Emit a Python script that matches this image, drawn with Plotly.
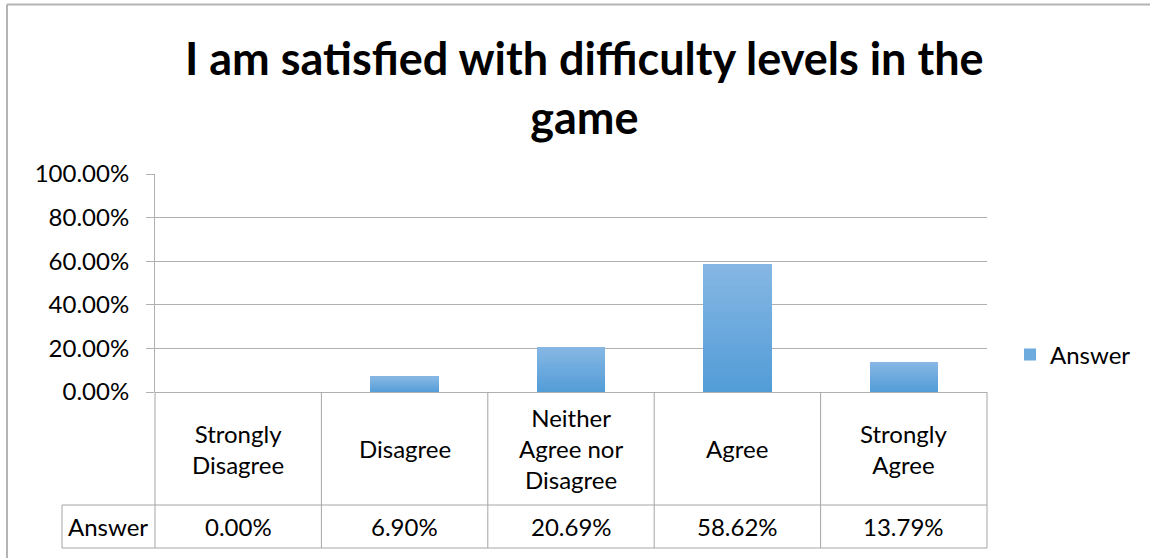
import plotly.graph_objects as go

categories = ["Strongly<br>Disagree", "Disagree", "Neither<br>Agree nor<br>Disagree", "Agree", "Strongly<br>Agree"]
values = [0.0, 0.0690, 0.2069, 0.5862, 0.1379]
series_name = "Answer"
title_text = "I am satisfied with difficulty levels in the<br>game"
tick_vals = [0, 0.2, 0.4, 0.6, 0.8, 1.0]

FONT = "Lato"
FS = 24
W, H = 1150, 558
ML, MR, MT, MB = 155, 163, 174, 166
PW = W - ML - MR
PH = H - MT - MB

def px_x(px):
    return (px - ML) / PW

def px_y(py):
    return (H - MB - py) / PH

top_rgb = (0x86, 0xB7, 0xE4)
bot_rgb = (0x52, 0x9C, 0xD7)
NSEG = 24

fig = go.Figure()
xs = list(range(len(categories)))
for k in range(NSEG):
    t = (k + 0.5) / NSEG  # 0 bottom -> 1 top
    c = tuple(round(b + (tp - b) * t) for b, tp in zip(bot_rgb, top_rgb))
    color = "rgb(%d,%d,%d)" % c
    fig.add_trace(go.Bar(
        x=xs, y=[v / NSEG for v in values], width=0.41,
        marker=dict(color=color, line=dict(width=0)),
        name=series_name, showlegend=(k == NSEG // 2), hoverinfo="skip",
    ))

grid = "#b0b0b0"
fig.update_layout(
    width=W, height=H, barmode="stack",
    margin=dict(l=ML, r=MR, t=MT, b=MB),
    paper_bgcolor="white", plot_bgcolor="white",
    font=dict(family=FONT, size=FS, color="black"),
    xaxis=dict(range=[-0.5, len(categories) - 0.5], showticklabels=False,
               showgrid=False, zeroline=False, showline=False, fixedrange=True),
    yaxis=dict(range=[0, 1], tickvals=tick_vals, tickformat=".2%",
               showgrid=True, gridcolor=grid, gridwidth=1,
               zeroline=True, zerolinecolor=grid, zerolinewidth=1,
               showline=True, linecolor=grid, linewidth=1,
               ticks="outside", ticklen=8, tickcolor=grid,
               ticklabelstandoff=12,
               tickfont=dict(family=FONT, size=FS, color="black")),
    legend=dict(x=px_x(1010), y=px_y(355), xanchor="left", yanchor="middle",
                font=dict(family=FONT, size=FS, color="black"),
                bgcolor="rgba(0,0,0,0)", itemwidth=30),
    showlegend=True,
)

shapes = []
line = dict(color="#a6a6a6", width=1)
# outer chart border (top and left)
shapes.append(dict(type="line", xref="paper", yref="paper", x0=px_x(7), x1=px_x(W + 5), y0=px_y(4.5), y1=px_y(4.5), line=dict(color="#b4b4b4", width=2)))
shapes.append(dict(type="line", xref="paper", yref="paper", x0=px_x(7), x1=px_x(7), y0=px_y(4.5), y1=px_y(H + 5), line=dict(color="#b4b4b4", width=2)))
# data table
n = len(categories)
row_top = px_y(505)
row_bot = px_y(548)
for i in range(n + 1):
    xp = i / n
    shapes.append(dict(type="line", xref="paper", yref="paper", x0=xp, x1=xp, y0=0, y1=row_bot, line=line))
shapes.append(dict(type="line", xref="paper", yref="paper", x0=px_x(62), x1=1, y0=row_top, y1=row_top, line=line))
shapes.append(dict(type="line", xref="paper", yref="paper", x0=px_x(62), x1=1, y0=row_bot, y1=row_bot, line=line))
shapes.append(dict(type="line", xref="paper", yref="paper", x0=px_x(62), x1=px_x(62), y0=row_top, y1=row_bot, line=line))

annotations = []
annotations.append(dict(text="<b>" + title_text + "</b>", xref="paper", yref="paper",
                        x=px_x(584), y=px_y(88), xanchor="center", yanchor="middle",
                        showarrow=False, font=dict(family=FONT, size=45, color="black")))
hdr_mid = px_y((392 + 505) / 2)
val_mid = px_y((505 + 548) / 2)
for i, (c, v) in enumerate(zip(categories, values)):
    annotations.append(dict(text=c, xref="x", yref="paper", x=i, y=hdr_mid,
                            xanchor="center", yanchor="middle", showarrow=False,
                            font=dict(family=FONT, size=FS, color="black")))
    annotations.append(dict(text="%.2f%%" % (v * 100), xref="x", yref="paper", x=i, y=val_mid,
                            xanchor="center", yanchor="middle", showarrow=False,
                            font=dict(family=FONT, size=FS, color="black")))
annotations.append(dict(text=series_name, xref="paper", yref="paper", x=px_x(108), y=val_mid,
                        xanchor="center", yanchor="middle", showarrow=False,
                        font=dict(family=FONT, size=FS, color="black")))

fig.update_layout(shapes=shapes, annotations=annotations)
fig.write_html("out.html", config={"displayModeBar": False},
               post_script="document.body.style.margin='0';document.body.style.overflow='hidden';")
